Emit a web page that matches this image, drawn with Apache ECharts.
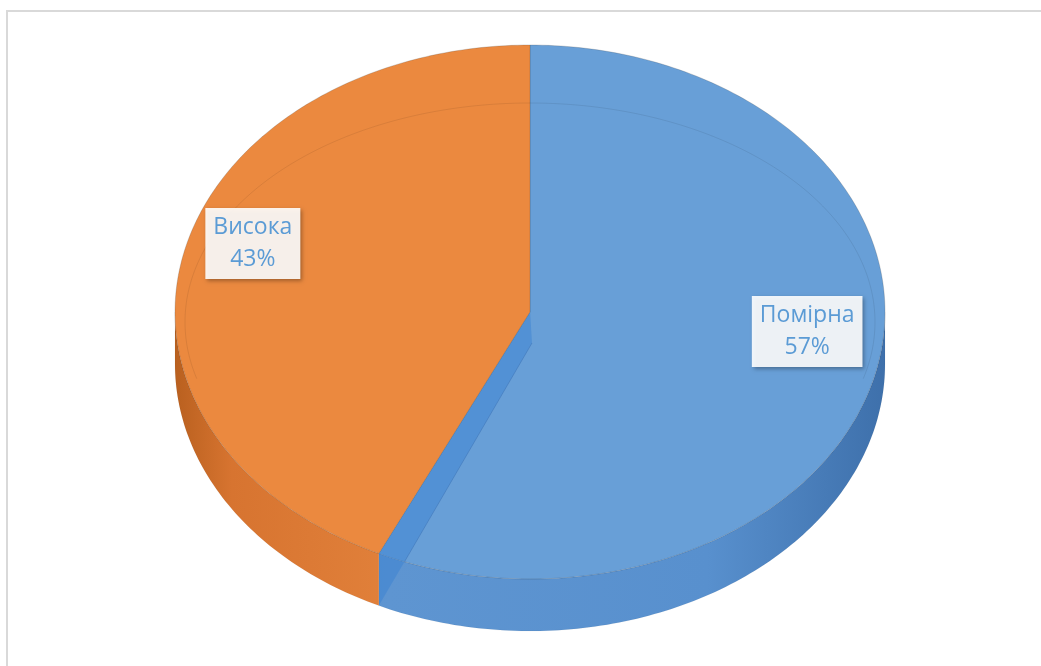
<!DOCTYPE html>
<html>
<head>
<meta charset="utf-8">
<script src="https://cdn.jsdelivr.net/npm/echarts@6/dist/echarts.min.js"></script>
<style>
  html, body { margin: 0; padding: 0; background: #ffffff; }
  #chart { width: 1041px; height: 666px; }
</style>
</head>
<body>
<div id="chart"></div>
<script>
// ---- data ----
const categories = ['Помірна', 'Висока'];
const values = [57, 43];
const topColors = ['#689FD7', '#EB893F'];

// ---- geometry of the tilted pie ----
const CX = 530, CY = 312, RX = 355, RY = 267, H = 52;
const total = values.reduce((a, b) => a + b, 0);

function pt(deg, dy, k) {
  dy = dy || 0; k = k == null ? 1 : k;
  const r = deg * Math.PI / 180;
  return [CX + RX * k * Math.sin(r), CY - RY * k * Math.cos(r) + dy];
}
function arc(a0, a1, dy, k) {
  const pts = [];
  const n = Math.max(2, Math.ceil(Math.abs(a1 - a0)));
  for (let j = 0; j <= n; j++) pts.push(pt(a0 + (a1 - a0) * j / n, dy, k));
  return pts;
}

const sideGrad = [
  { type: 'linear', x: CX - RX, y: 0, x2: CX + RX, y2: 0, global: true,
    colorStops: [{ offset: 0, color: '#4E84C2' }, { offset: 0.3, color: '#5E95D1' }, { offset: 0.75, color: '#5890CE' }, { offset: 1, color: '#3E70AB' }] },
  { type: 'linear', x: CX - RX, y: 0, x2: CX + RX, y2: 0, global: true,
    colorStops: [{ offset: 0, color: '#B9601F' }, { offset: 0.08, color: '#D77430' }, { offset: 0.3, color: '#E1803A' }, { offset: 1, color: '#E1803A' }] }
];

function renderItem(params, api) {
  const i = params.dataIndex;
  const v = api.value(0);
  let before = 0;
  for (let j = 0; j < i; j++) before += values[j];
  const a0 = before / total * 360;
  const a1 = a0 + v / total * 360;
  const children = [];

  // side wall (front half only)
  const s0 = Math.max(a0, 90), s1 = Math.min(a1, 270);
  if (s0 < s1) {
    const pts = arc(s0, s1, 0).concat(arc(s1, s0, H));
    children.push({ type: 'polygon', shape: { points: pts },
      style: { fill: sideGrad[i], stroke: 'rgba(0,0,0,0.08)', lineWidth: 0.5 } });
  }
  // top face
  const topPts = [[CX, CY]].concat(arc(a0, a1, 0));
  children.push({ type: 'polygon', shape: { points: topPts },
    style: { fill: topColors[i], stroke: 'rgba(60,60,60,0.25)', lineWidth: 0.8 } });

  // inner bevel line
  let b0, b1;
  if (i === 0) { b0 = 0; b1 = Math.min(a1, 105); }
  else { b0 = Math.max(a0, 255); b1 = a1; }
  if (b0 < b1) {
    const bev = [];
    const n = Math.ceil(b1 - b0);
    for (let j = 0; j <= n; j++) {
      const d = (b0 + (b1 - b0) * j / n) * Math.PI / 180;
      bev.push([CX + 345 * Math.sin(d), 322 - 219 * Math.cos(d)]);
    }
    children.push({ type: 'polyline', shape: { points: bev },
      style: { fill: null, stroke: 'rgba(0,0,0,0.08)', lineWidth: 1 } });
  }

  // visible cut wall at the end of the first slice
  if (i === 0) {
    const p = pt(a1, 0), q = pt(a1 - 4.5, 0), r = pt(a1, H);
    children.push({ type: 'polygon', shape: { points: [[CX, CY - 2], p, r, q, [CX + 2, CY + 31]] },
      style: { fill: 'rgba(50,125,210,0.4)', stroke: null } });
    children.push({ type: 'polyline', shape: { points: [q, [CX + 2, CY + 31]] },
      style: { stroke: 'rgba(40,90,160,0.3)', lineWidth: 1 } });
  }

  // label box
  const mid = (a0 + a1) / 2;
  const lp = pt(mid, -25, 0.8);
  const pct = Math.round(v / total * 100) + '%';
  children.push({ type: 'text', z2: 100, style: {
    text: categories[i] + '\n' + pct, x: lp[0], y: lp[1] + (i === 1 ? 3 : -2), align: 'center', verticalAlign: 'middle',
    fill: '#5B9BD5', fontFamily: '"Open Sans", "Noto Sans", sans-serif', fontSize: 23, lineHeight: 32,
    backgroundColor: 'rgba(255,255,255,0.9)', padding: [4, 8, 3, 8],
    shadowBlur: 4, shadowOffsetX: 2, shadowOffsetY: 2, shadowColor: 'rgba(0,0,0,0.35)'
  } });

  return { type: 'group', children: children };
}

const chart = echarts.init(document.getElementById('chart'), null, { renderer: 'canvas' });
chart.setOption({
  animation: false,
  backgroundColor: '#ffffff',
  graphic: [{
    type: 'polyline', z: -10, silent: true,
    shape: { points: [[7, 666], [7, 11], [1041, 11]] },
    style: { fill: null, stroke: '#D9D9D9', lineWidth: 2 }
  }],
  series: [{
    type: 'custom',
    coordinateSystem: 'none',
    renderItem: renderItem,
    data: values.map((v, i) => ({ name: categories[i], value: [v] }))
  }]
});
</script>
</body>
</html>
